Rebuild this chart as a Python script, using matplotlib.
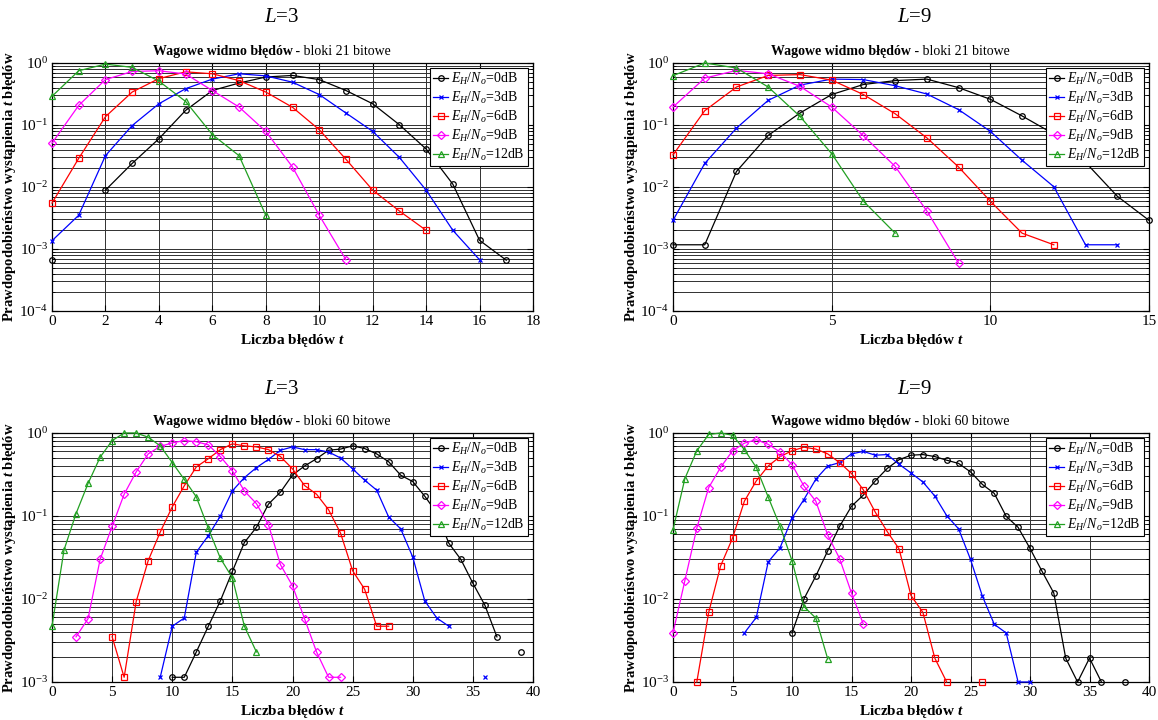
"""Wagowe widmo bledow: 2x2 grid (21/60-bit blocks, L=3 / L=9), log y-axis."""

import matplotlib

matplotlib.use("Agg")
import matplotlib.pyplot as plt
import numpy as np
from matplotlib.ticker import LogLocator, LogFormatterMathtext, NullFormatter, MultipleLocator

plt.rcParams.update({
    "font.family": "Liberation Serif",
    "mathtext.fontset": "custom",
    "mathtext.rm": "Liberation Serif",
    "mathtext.it": "Liberation Serif:italic",
    "mathtext.bf": "Liberation Serif:bold",
    "mathtext.bfit": "Liberation Serif:bold:italic",
})

nan = np.nan

SNR = ["0dB", "3dB", "6dB", "9dB", "12dB"]
COLORS = ["k", "#0000ff", "#ff0000", "#ff00ff", "#22a022"]
MARKERS = ["o", "x", "s", "D", "^"]

# 21-bit blocks, L=3 (first t of each series, then probabilities)
B21_L3_START = [0, 0, 0, 0, 0]
B21_L3_0DB = [6.7e-4, nan, 0.0089, 0.024, 0.060, 0.172, 0.36, 0.475, 0.594, 0.63,
              0.54, 0.36, 0.22, 0.101, 0.041, 0.0111, 0.00138, 6.6e-4]
B21_L3_3DB = [0.00136, 0.0035, 0.032, 0.098, 0.22, 0.385, 0.55, 0.67, 0.62, 0.49,
              0.31, 0.156, 0.079, 0.030, 0.0089, 0.0020, 6.7e-4]
B21_L3_6DB = [0.0055, 0.029, 0.136, 0.34, 0.56, 0.72, 0.67, 0.52, 0.34, 0.193,
              0.084, 0.028, 0.0089, 0.0041, 0.0020]
B21_L3_9DB = [0.051, 0.207, 0.54, 0.73, 0.75, 0.665, 0.36, 0.195, 0.079, 0.021,
              0.0035, 6.7e-4]
B21_L3_12DB = [0.29, 0.75, 0.96, 0.85, 0.51, 0.24, 0.07, 0.032, 0.0035]

# 21-bit blocks, L=9
B21_L9_START = [0, 0, 0, 0, 0]
B21_L9_0DB = [0.00117, 0.00117, 0.0178, 0.068, 0.156, 0.31, 0.45, 0.52, 0.55, 0.40,
              0.26, 0.14, 0.0716, 0.025, 0.0071, 0.0029]
B21_L9_3DB = [0.0029, 0.024, 0.089, 0.25, 0.44, 0.55, 0.54, 0.43, 0.316, 0.177,
              0.079, 0.027, 0.0101, 0.00117, 0.00117]
B21_L9_6DB = [0.033, 0.17, 0.41, 0.63, 0.65, 0.53, 0.31, 0.152, 0.062, 0.021,
              0.0059, 0.0018, 0.00117]
B21_L9_9DB = [0.195, 0.57, 0.76, 0.67, 0.42, 0.195, 0.067, 0.0215, 0.0041, 5.9e-4]
B21_L9_12DB = [0.625, 1.0, 0.83, 0.41, 0.138, 0.0345, 0.0059, 0.0018]

# 60-bit blocks, L=3
B60_L3_START = [10, 9, 5, 2, 0]
B60_L3_0DB = [0.00114, 0.00114, 0.0023, 0.0047, 0.0095, 0.0215, 0.048, 0.073, 0.139, 0.194,
              0.312, 0.40, 0.49, 0.62, 0.64, 0.70, 0.65, 0.56, 0.45, 0.31,
              0.26, 0.173, 0.109, 0.047, 0.030, 0.0155, 0.0084, 0.0035, nan, 0.0023]
B60_L3_3DB = [0.00114, 0.0047, 0.0059, 0.0366, 0.058, 0.1, 0.201, 0.29, 0.383, 0.48,
              0.62, 0.68, 0.63, 0.63, 0.59, 0.50, 0.37, 0.27, 0.205, 0.097,
              0.070, 0.032, 0.0095, 0.0059, 0.0047, nan, nan, 0.00114]
B60_L3_6DB = [0.0035, 0.00114, 0.0093, 0.029, 0.064, 0.129, 0.231, 0.39, 0.49, 0.63,
              0.74, 0.70, 0.68, 0.63, 0.52, 0.37, 0.233, 0.183, 0.119, 0.062,
              0.0219, 0.0131, 0.0047, 0.0047]
B60_L3_9DB = [0.0035, 0.0058, 0.030, 0.075, 0.183, 0.34, 0.56, 0.69, 0.76, 0.81,
              0.785, 0.72, 0.52, 0.35, 0.2, 0.141, 0.0785, 0.0259, 0.0144, 0.0058,
              0.0023, 0.00114, 0.00114]
B60_L3_12DB = [0.0047, 0.039, 0.107, 0.247, 0.51, 0.81, 1.0, 1.0, 0.89, 0.70,
               0.44, 0.276, 0.17, 0.071, 0.031, 0.018, 0.0047, 0.0023]

# 60-bit blocks, L=9
B60_L9_START = [10, 6, 2, 0, 0]
B60_L9_0DB = [0.0039, 0.0100, 0.0189, 0.038, 0.075, 0.131, 0.179, 0.265, 0.374, 0.477,
              0.54, 0.55, 0.52, 0.47, 0.43, 0.34, 0.24, 0.187, 0.099, 0.073,
              0.0407, 0.0217, 0.0118, 0.00194, 0.001, 0.00194, 0.001, nan, 0.001]
B60_L9_3DB = [0.0039, 0.0060, 0.028, 0.0415, 0.0946, 0.158, 0.277, 0.40, 0.44, 0.56,
              0.60, 0.54, 0.55, 0.42, 0.33, 0.257, 0.174, 0.101, 0.070, 0.030,
              0.0108, 0.00495, 0.0039, 0.001, 0.001]
B60_L9_6DB = [0.001, 0.0069, 0.025, 0.054, 0.151, 0.265, 0.40, 0.52, 0.61, 0.675,
              0.64, 0.56, 0.44, 0.325, 0.206, 0.111, 0.065, 0.040, 0.011, 0.0069,
              0.00194, 0.001, nan, nan, 0.001]
B60_L9_9DB = [0.0039, 0.0167, 0.0714, 0.22, 0.385, 0.61, 0.755, 0.83, 0.73, 0.59,
              0.415, 0.23, 0.151, 0.059, 0.0307, 0.0118, 0.00495]
B60_L9_12DB = [0.068, 0.283, 0.61, 0.96, 1.0, 0.94, 0.63, 0.385, 0.169, 0.075,
               0.029, 0.0081, 0.0059, 0.0019]

GRID_C = "#303030"


def draw(ax, starts, series, xmax, xstep, ymin, bits):
    for i, (s, vals) in enumerate(zip(starts, series)):
        t = np.arange(s, s + len(vals))
        ax.plot(t, vals, color=COLORS[i], marker=MARKERS[i], lw=0.9,
                ms=4.0 if MARKERS[i] != "x" else 3.5, mfc="none", mew=0.9,
                clip_on=False, zorder=3,
                label=r"$E_H/N_o$=" + SNR[i])
    ax.set_yscale("log")
    ax.set_ylim(ymin, 1)
    ax.set_xlim(0, xmax)
    ax.xaxis.set_major_locator(MultipleLocator(xstep))
    ax.yaxis.set_major_locator(LogLocator(base=10))
    ax.yaxis.set_major_formatter(LogFormatterMathtext())
    ax.yaxis.set_minor_locator(LogLocator(base=10, subs=np.arange(2, 10)))
    ax.yaxis.set_minor_formatter(NullFormatter())
    ax.grid(True, which="major", axis="x", color=GRID_C, lw=0.7)
    ax.grid(True, which="both", axis="y", color=GRID_C, lw=0.7)
    ax.tick_params(which="both", direction="in", top=True, right=True,
                   labelsize=11, pad=3)
    ax.tick_params(which="major", length=4)
    ax.tick_params(which="minor", length=2)
    for sp in ax.spines.values():
        sp.set_linewidth(0.9)
    ax.set_axisbelow(True)

    tb = ax.text(0.5, 1.02, "Wagowe widmo błędów", transform=ax.transAxes,
                 ha="right", va="bottom", fontsize=10, fontweight="bold")
    ax.annotate(f" - bloki {bits} bitowe", xy=(1, 0), xycoords=tb,
                ha="left", va="bottom", fontsize=10)

    ax.set_xlabel(r"Liczba błędów $\mathbfit{t}$", fontsize=11, fontweight="bold")
    ax.xaxis.set_label_coords(0.5, -0.085)
    ax.xaxis.label.set_va("top")
    ax.set_ylabel(r"Prawdopodobieństwo wystąpienia $\mathbfit{t}$ błędów",
                  fontsize=10.5, fontweight="bold")
    ax.yaxis.set_label_coords(-0.07, 0.5)

    leg = ax.legend(loc="upper right", fontsize=10, fancybox=False, edgecolor="k",
                    framealpha=1, handlelength=1.1, handletextpad=0.2,
                    borderpad=0.25, labelspacing=0.2, borderaxespad=0.35)
    leg.get_frame().set_linewidth(0.8)


fig = plt.figure(figsize=(11.58, 7.2), dpi=100)

ax1 = fig.add_axes([52 / 1158, 1 - 311 / 720, 481 / 1158, 248 / 720])
ax2 = fig.add_axes([673 / 1158, 1 - 311 / 720, 476 / 1158, 248 / 720])
ax3 = fig.add_axes([52 / 1158, 1 - 682 / 720, 481 / 1158, 249 / 720])
ax4 = fig.add_axes([673 / 1158, 1 - 682 / 720, 476 / 1158, 249 / 720])

draw(ax1, B21_L3_START, [B21_L3_0DB, B21_L3_3DB, B21_L3_6DB, B21_L3_9DB, B21_L3_12DB],
     18, 2, 1e-4, 21)
draw(ax2, B21_L9_START, [B21_L9_0DB, B21_L9_3DB, B21_L9_6DB, B21_L9_9DB, B21_L9_12DB],
     15, 5, 1e-4, 21)
draw(ax3, B60_L3_START, [B60_L3_0DB, B60_L3_3DB, B60_L3_6DB, B60_L3_9DB, B60_L3_12DB],
     40, 5, 1e-3, 60)
draw(ax4, B60_L9_START, [B60_L9_0DB, B60_L9_3DB, B60_L9_6DB, B60_L9_9DB, B60_L9_12DB],
     40, 5, 1e-3, 60)

for x, y, L in [(282, 17, 3), (915, 17, 9), (282, 390, 3), (915, 390, 9)]:
    fig.text(x / 1158, 1 - y / 720, f"$L$={L}", ha="center", va="center", fontsize=15)

fig.savefig("out.png", dpi=100)
